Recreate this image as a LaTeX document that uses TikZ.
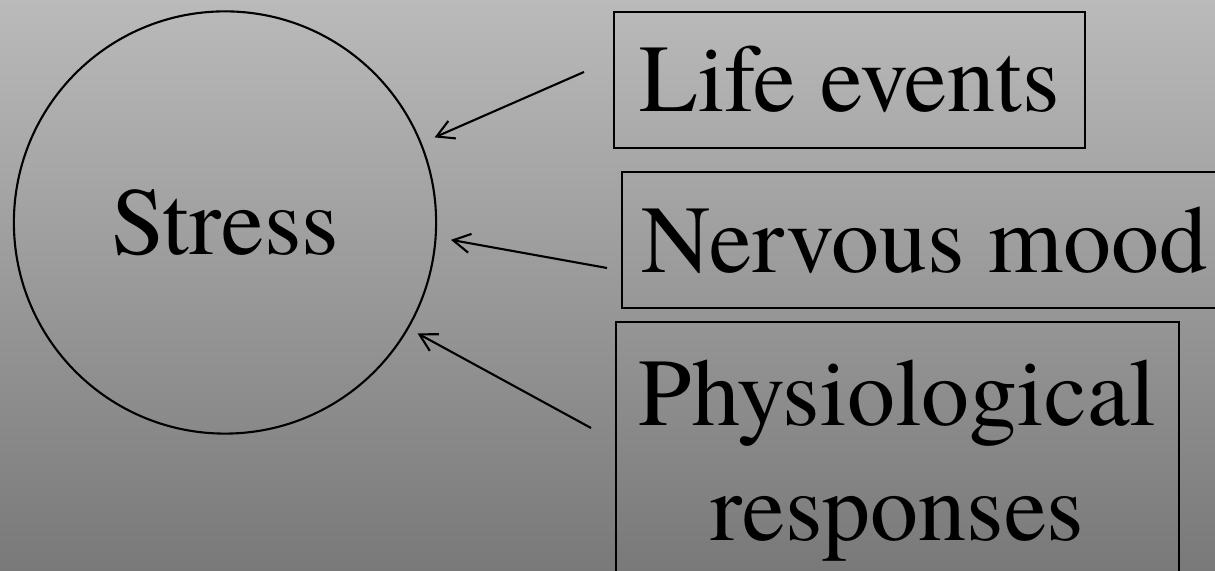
\documentclass[tikz,border=0pt]{standalone}
\usepackage{fontspec}
\setmainfont{TeX Gyre Termes}
\usetikzlibrary{shapes,arrows.meta}
\definecolor{bgtop}{RGB}{186,186,186}
\definecolor{bgbottom}{RGB}{121,121,121}
\tikzstyle{block} = [rectangle, draw, line width=0.6pt, align=center, inner sep=0pt, font=\fontsize{27.3}{32.7}\selectfont]
\tikzstyle{latent} = [circle, draw, line width=0.6pt, minimum size=4.22cm, inner sep=0pt, font=\fontsize{27.3}{32.7}\selectfont]
\tikzstyle{arr} = [-{Straight Barb[length=0.17cm,width=0.19cm]}, line width=0.6pt]

\begin{document}
\begin{tikzpicture}[x=0.01cm, y=-0.01cm]
   \useasboundingbox (0,0) rectangle (1215,571);
   \fill[top color=bgtop, bottom color=bgbottom] (0,0) rectangle (1215,571);
   \clip (0,0) rectangle (1215,571);
   \node[latent] (stress) at (225,222.5) {Stress};
   \node[block, minimum width=4.71cm, minimum height=1.36cm] (life) at (849.5,79.7) {Life events};
   \node[block, minimum width=6.05cm, minimum height=1.36cm] (mood) at (924.5,240) {Nervous mood};
   \node[block, minimum width=5.63cm, minimum height=2.77cm] (phys) at (897.5,460.5) {Physiological\\responses};
   \coordinate (lifetail) at (584,72);
   \coordinate (moodtail) at (607,268);
   \coordinate (phystail) at (591,428);
   \draw[arr, shorten >=0.14cm] (lifetail) -- (stress.22);
   \draw[arr, shorten >=0.145cm] (moodtail) -- (stress.-4);
   \draw[arr, shorten >=0.10cm] (phystail) -- (stress.-30);
\end{tikzpicture}
\end{document}
